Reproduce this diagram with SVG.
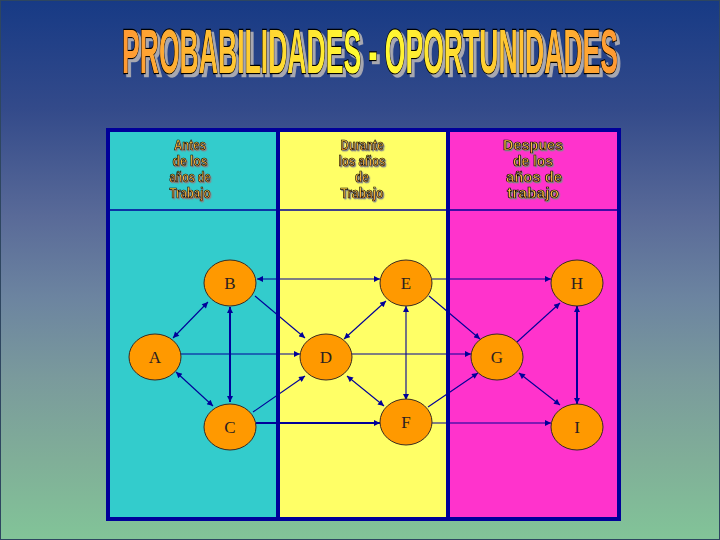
<svg xmlns="http://www.w3.org/2000/svg" width="720" height="540" viewBox="0 0 720 540">
<defs>
<linearGradient id="bg" x1="0" y1="0" x2="0" y2="1">
<stop offset="0" stop-color="#173A85"/>
<stop offset="0.2" stop-color="#334A8A"/>
<stop offset="0.4" stop-color="#596A98"/>
<stop offset="0.55" stop-color="#6C84A0"/>
<stop offset="0.7" stop-color="#7A9A9C"/>
<stop offset="0.85" stop-color="#80AE98"/>
<stop offset="1" stop-color="#82C498"/>
</linearGradient>
<linearGradient id="tg" gradientUnits="userSpaceOnUse" x1="0" y1="0" x2="1176" y2="0">
<stop offset="0" stop-color="#FF9933"/>
<stop offset="0.5" stop-color="#FFFF33"/>
<stop offset="1" stop-color="#FF9933"/>
</linearGradient>
<linearGradient id="hg" x1="0" y1="0" x2="0" y2="1">
<stop offset="0" stop-color="#FFE040"/>
<stop offset="1" stop-color="#FF9930"/>
</linearGradient>
<filter id="sh" x="-5%" y="-10%" width="115%" height="140%">
<feDropShadow dx="7" dy="3" stdDeviation="0" flood-color="#A8A8B0" flood-opacity="1"/>
</filter>
<filter id="sh2" x="-10%" y="-10%" width="130%" height="150%">
<feDropShadow dx="1.2" dy="1.2" stdDeviation="0" flood-color="#888888" flood-opacity="1"/>
</filter>
<marker id="arr" viewBox="0 0 10 10" refX="10" refY="5" markerWidth="7" markerHeight="6" markerUnits="userSpaceOnUse" orient="auto-start-reverse">
<path d="M0,0 L10,5 L0,10 z" fill="#000099"/>
</marker>
</defs>
<style>
.title{font-family:"Liberation Sans",Arial,sans-serif;font-weight:bold;font-size:63px;fill:url(#tg);stroke:#000;stroke-width:2.4px;paint-order:stroke;filter:url(#sh)}
.hd{font-family:"Liberation Sans",Arial,sans-serif;font-weight:bold;font-size:14px;fill:url(#hg);stroke:#000;stroke-width:0.7px;text-anchor:middle;filter:url(#sh2)}
.node ellipse{fill:#FF9900;stroke:#3a2a20;stroke-width:1}
.node text{font-family:"Liberation Serif","Times New Roman",serif;font-size:17px;fill:#2a2020;text-anchor:middle}
.e{stroke:#000099;stroke-width:1.1;fill:none;marker-end:url(#arr)}
.b{marker-start:url(#arr)}
.t{stroke-width:2}
</style>
<rect x="0.5" y="0.5" width="719" height="539" fill="url(#bg)" stroke="#2E4660" stroke-width="1"/>
<text class="title" transform="translate(122,73) scale(0.4218,1)" x="0" y="0" textLength="1176" lengthAdjust="spacingAndGlyphs">PROBABILIDADES - OPORTUNIDADES</text>
<g id="panel">
<rect x="108" y="130" width="170" height="389" fill="#33CCCC"/>
<rect x="278" y="130" width="170" height="389" fill="#FFFF66"/>
<rect x="448" y="130" width="171" height="389" fill="#FF33CC"/>
<line x1="108" y1="210" x2="619" y2="210" stroke="#000099" stroke-width="1.5"/>
<line x1="278" y1="130" x2="278" y2="519" stroke="#000099" stroke-width="4"/>
<line x1="448" y1="130" x2="448" y2="519" stroke="#000099" stroke-width="4"/>
<rect x="108" y="130" width="511" height="389" fill="none" stroke="#000099" stroke-width="4"/>
</g>
<g id="headers">
<text class="hd" x="190" y="150" textLength="32" lengthAdjust="spacingAndGlyphs">Antes</text>
<text class="hd" x="190" y="166" textLength="35" lengthAdjust="spacingAndGlyphs">de los</text>
<text class="hd" x="190" y="182" textLength="41" lengthAdjust="spacingAndGlyphs">años de</text>
<text class="hd" x="190" y="198" textLength="41" lengthAdjust="spacingAndGlyphs">Trabajo</text>
<text class="hd" x="362" y="150" textLength="43" lengthAdjust="spacingAndGlyphs">Durante</text>
<text class="hd" x="362" y="166" textLength="47" lengthAdjust="spacingAndGlyphs">los años</text>
<text class="hd" x="362" y="182" textLength="14" lengthAdjust="spacingAndGlyphs">de</text>
<text class="hd" x="362" y="198" textLength="43" lengthAdjust="spacingAndGlyphs">Trabajo</text>
<text class="hd" x="533" y="150" textLength="60" lengthAdjust="spacingAndGlyphs">Despues</text>
<text class="hd" x="533" y="166" textLength="40" lengthAdjust="spacingAndGlyphs">de los</text>
<text class="hd" x="534" y="182" textLength="56" lengthAdjust="spacingAndGlyphs">años de</text>
<text class="hd" x="533" y="198" textLength="52" lengthAdjust="spacingAndGlyphs">trabajo</text>
</g>
<g id="connectors">
<line class="e b" x1="173" y1="338" x2="208" y2="302"/>
<line class="e b" x1="176" y1="372" x2="213" y2="406"/>
<line class="e b t" x1="230" y1="307" x2="230" y2="402"/>
<line class="e" x1="181" y1="354" x2="300" y2="354"/>
<line class="e" x1="255" y1="296" x2="305" y2="338"/>
<line class="e" x1="253" y1="412" x2="305" y2="376"/>
<line class="e b" x1="257" y1="279" x2="380" y2="279"/>
<line class="e t" x1="256" y1="423" x2="380" y2="423"/>
<line class="e b" x1="344" y1="339" x2="386" y2="301"/>
<line class="e b" x1="347" y1="376" x2="384" y2="406"/>
<line class="e b" x1="406" y1="306" x2="406" y2="400"/>
<line class="e" x1="352" y1="354" x2="471" y2="354"/>
<line class="e" x1="432" y1="279" x2="551" y2="279"/>
<line class="e" x1="429" y1="296" x2="480" y2="339"/>
<line class="e" x1="428" y1="407" x2="478" y2="373"/>
<line class="e" x1="432" y1="423" x2="551" y2="423"/>
<line class="e" x1="517" y1="342" x2="560" y2="303"/>
<line class="e b" x1="519" y1="373" x2="560" y2="405"/>
<line class="e b t" x1="577" y1="306" x2="577" y2="404"/>
</g>
<g id="A" class="node"><ellipse cx="155" cy="357" rx="26" ry="23"/><text x="155" y="363">A</text></g>
<g id="B" class="node"><ellipse cx="230" cy="283" rx="26" ry="23"/><text x="230" y="289">B</text></g>
<g id="C" class="node"><ellipse cx="230" cy="427" rx="26" ry="23"/><text x="230" y="433">C</text></g>
<g id="D" class="node"><ellipse cx="326" cy="357" rx="26" ry="23"/><text x="326" y="363">D</text></g>
<g id="E" class="node"><ellipse cx="406" cy="283" rx="26" ry="23"/><text x="406" y="289">E</text></g>
<g id="F" class="node"><ellipse cx="406" cy="422" rx="26" ry="23"/><text x="406" y="428">F</text></g>
<g id="G" class="node"><ellipse cx="497" cy="357" rx="26" ry="23"/><text x="497" y="363">G</text></g>
<g id="H" class="node"><ellipse cx="577" cy="283" rx="26" ry="23"/><text x="577" y="289">H</text></g>
<g id="I" class="node"><ellipse cx="577" cy="427" rx="26" ry="23"/><text x="577" y="433">I</text></g>
</svg>
